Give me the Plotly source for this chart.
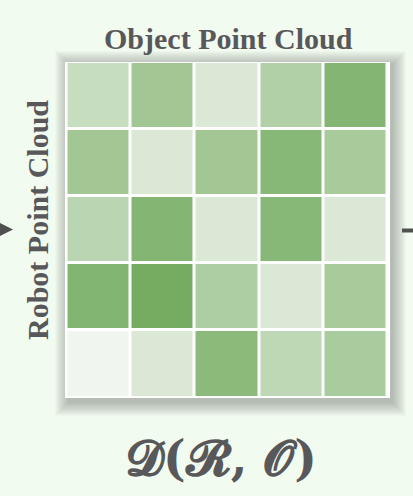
import plotly.graph_objects as go

W, H = 413, 496

# Data
object_points = ["o1", "o2", "o3", "o4", "o5"]
robot_points = ["r1", "r2", "r3", "r4", "r5"]
distance = [
    [0.33, 0.62, 0.17, 0.50, 0.86],
    [0.62, 0.17, 0.62, 0.83, 0.57],
    [0.43, 0.86, 0.17, 0.83, 0.17],
    [0.87, 0.98, 0.53, 0.17, 0.57],
    [0.00, 0.17, 0.80, 0.40, 0.56],
]
title_top = "Object Point Cloud"
title_left = "Robot Point Cloud"
formula = "𝓓(𝓡, 𝓞)"

BG = "#f2fbef"
TXT = "#58585a"


def px(x):
    return x / W


def py(y):
    return 1 - y / H


fig = go.Figure(
    go.Heatmap(
        z=distance,
        x=object_points,
        y=robot_points,
        colorscale=[[0, "#f0f5ef"], [1, "#72ab5e"]],
        zmin=0,
        zmax=1,
        xgap=3,
        ygap=3,
        showscale=False,
        hoverinfo="skip",
    )
)

shapes = []
# soft shadow
for i in range(14):
    shapes.append(dict(
        type="rect", xref="paper", yref="paper", layer="below",
        x0=px(65 + 3 - i), x1=px(390 + 3 + i),
        y0=py(398 + 5 + i), y1=py(62 + 2 - i),
        line=dict(width=0), fillcolor="rgba(60,60,60,0.028)",
    ))
# white panel
shapes.append(dict(
    type="rect", xref="paper", yref="paper", layer="below",
    x0=px(65), x1=px(390), y0=py(398), y1=py(62),
    line=dict(width=0), fillcolor="white",
))
# left arrow head
shapes.append(dict(
    type="path", xref="paper", yref="paper",
    path=f"M {px(0)},{py(223)} L {px(13)},{py(229.5)} L {px(0)},{py(236)} Z",
    fillcolor="#505050", line=dict(width=0),
))
# right stub
shapes.append(dict(
    type="line", xref="paper", yref="paper",
    x0=px(402), x1=px(413), y0=py(230.5), y1=py(230.5),
    line=dict(color="#505050", width=4),
))

annotations = [
    dict(text=f"<b>{title_top}</b>", x=px(228), y=py(39), xref="paper", yref="paper",
         xanchor="center", yanchor="middle",
         showarrow=False, font=dict(family="Liberation Serif", size=30, color=TXT)),
    dict(text=f"<b>{title_left}</b>", x=px(37), y=py(220), xref="paper", yref="paper",
         xanchor="center", yanchor="middle",
         showarrow=False, textangle=-90,
         font=dict(family="Liberation Serif", size=30, color=TXT)),
    dict(text=f"<b>{formula}</b>", x=px(222), y=py(458), xref="paper", yref="paper",
         xanchor="center", yanchor="middle",
         showarrow=False, font=dict(family="DejaVu Serif, Liberation Serif", size=48, color=TXT)),
]

fig.update_layout(
    width=W, height=H,
    margin=dict(l=0, r=0, t=0, b=0),
    paper_bgcolor=BG,
    plot_bgcolor="white",
    shapes=shapes,
    annotations=annotations,
    xaxis=dict(domain=[px(66.5), px(387.5)], visible=False, showgrid=False),
    yaxis=dict(domain=[py(397.5), py(62)], visible=False, showgrid=False,
               autorange="reversed"),
    showlegend=False,
)

fig.write_html(
    "out.html",
    config={"displayModeBar": False, "staticPlot": True},
    post_script="document.body.style.margin='0';document.body.style.overflow='hidden';",
)
